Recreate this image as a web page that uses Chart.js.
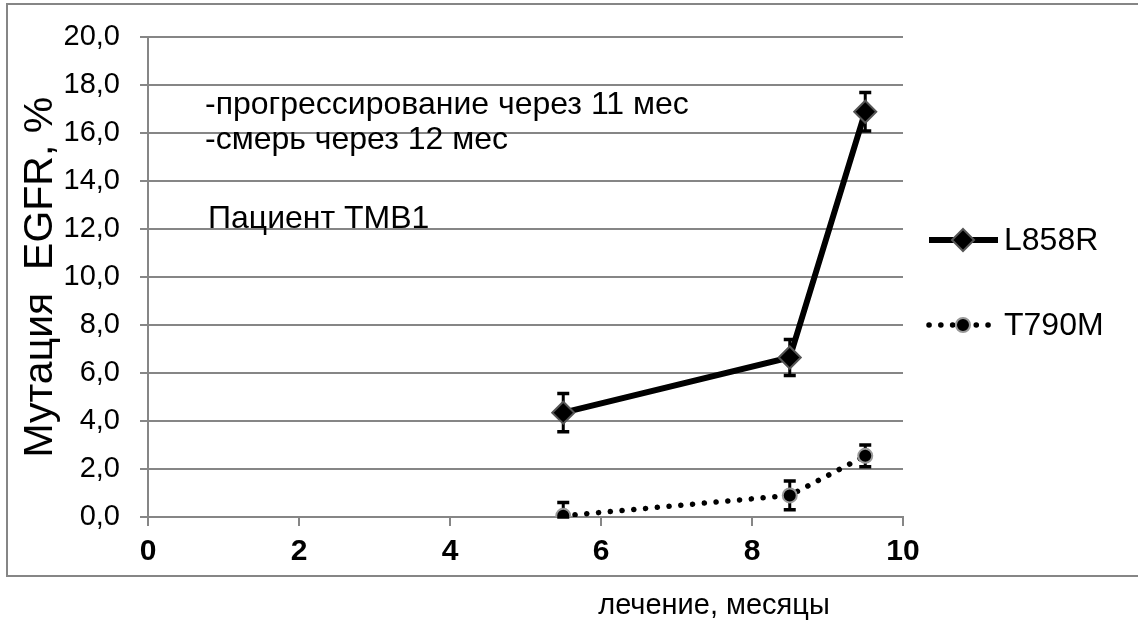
<!DOCTYPE html>
<html>
<head>
<meta charset="utf-8">
<script src="https://cdn.jsdelivr.net/npm/chart.js@4"></script>
<style>
  html, body { margin: 0; padding: 0; background: #fff; }
  #wrap { width: 1138px; height: 627px; }
</style>
</head>
<body>
<div id="wrap"><canvas id="chart" width="1138" height="627"></canvas></div>
<script>
const months = [5.5, 8.5, 9.5];
const l858r = [4.35, 6.65, 16.9];
const l858rErr = [0.8, 0.75, 0.8];
const t790m = [0.05, 0.9, 2.55];
const t790mErr = [0.55, 0.6, 0.45];
const xTicks = [0, 2, 4, 6, 8, 10];
const notes = ["-прогрессирование через 11 мес", "-смерь через 12 мес", "Пациент ТМВ1"];

const FONT = "'Liberation Sans', Arial, sans-serif";
const GRID = "#868686";

const errorBars = {
  id: "errorBars",
  beforeDatasetsDraw(chart) {
    const { ctx, scales } = chart;
    const sets = [l858rErr, t790mErr];
    ctx.save();
    ctx.strokeStyle = "#000";
    ctx.lineWidth = 3;
    chart.data.datasets.forEach((ds, i) => {
      ds.data.forEach((p, j) => {
        const x = scales.x.getPixelForValue(p.x);
        const yTop = scales.y.getPixelForValue(p.y + sets[i][j]);
        const yBot = scales.y.getPixelForValue(Math.max(p.y - sets[i][j], 0));
        ctx.beginPath();
        ctx.moveTo(x, yTop); ctx.lineTo(x, yBot);
        ctx.stroke();
        ctx.lineWidth = 3.5;
        ctx.beginPath();
        ctx.moveTo(x - 6, yTop); ctx.lineTo(x + 6, yTop);
        ctx.moveTo(x - 6, yBot); ctx.lineTo(x + 6, yBot);
        ctx.stroke();
        ctx.lineWidth = 3;
      });
    });
    ctx.restore();
  },
};

const extras = {
  id: "extras",
  afterDraw(chart) {
    const { ctx } = chart;
    ctx.save();
    // outer frame
    ctx.strokeStyle = GRID;
    ctx.lineWidth = 2;
    ctx.strokeRect(7, 4, 1140, 572);

    // notes
    ctx.fillStyle = "#000";
    ctx.font = "32px " + FONT;
    ctx.textBaseline = "middle";
    ctx.textAlign = "left";
    ctx.fillText(notes[0], 205, 105);
    ctx.fillText(notes[1], 205, 140);
    ctx.fillText(notes[2], 208, 219);

    // legend
    chart.data.datasets.forEach((ds, i) => {
      const y = [240, 325][i];
      ctx.save();
      ctx.strokeStyle = ds.borderColor;
      ctx.lineWidth = ds.borderWidth;
      ctx.lineCap = ds.borderCapStyle || "butt";
      ctx.setLineDash(ds.borderDash || []);
      ctx.beginPath();
      ctx.moveTo(929, y); ctx.lineTo(998, y);
      ctx.stroke();
      ctx.restore();
      ctx.save();
      ctx.fillStyle = ds.pointBackgroundColor;
      ctx.strokeStyle = ds.pointBorderColor;
      ctx.lineWidth = ds.pointBorderWidth;
      ctx.beginPath();
      if (ds.pointStyle === "rectRot") {
        const r = ds.pointRadius;
        ctx.moveTo(963, y - r); ctx.lineTo(963 + r, y);
        ctx.lineTo(963, y + r); ctx.lineTo(963 - r, y);
        ctx.closePath();
      } else {
        ctx.arc(963, y, ds.pointRadius, 0, Math.PI * 2);
      }
      ctx.fill(); ctx.stroke();
      ctx.restore();
      ctx.fillStyle = "#000";
      ctx.font = "32px " + FONT;
      ctx.fillText(ds.label, 1004, y + 1);
    });

    // x title below frame
    ctx.font = "29px " + FONT;
    ctx.textAlign = "center";
    ctx.fillText("лечение, месяцы", 714, 606);
    ctx.restore();
  },
};

new Chart(document.getElementById("chart"), {
  type: "line",
  data: {
    datasets: [
      {
        label: "L858R",
        data: months.map((m, i) => ({ x: m, y: l858r[i] })),
        borderColor: "#000",
        borderWidth: 6,
        pointStyle: "rectRot",
        pointRadius: 11,
        pointBackgroundColor: "#000",
        pointBorderColor: "#555",
        pointBorderWidth: 2,
        tension: 0,
      },
      {
        label: "T790M",
        data: months.map((m, i) => ({ x: m, y: t790m[i] })),
        borderColor: "#000",
        borderWidth: 5.5,
        borderDash: [0.1, 11.7],
        borderCapStyle: "round",
        pointStyle: "circle",
        pointRadius: 7,
        pointBackgroundColor: "#000",
        pointBorderColor: "#999",
        pointBorderWidth: 2,
        tension: 0,
      },
    ],
  },
  options: {
    responsive: false,
    animation: false,
    layout: { padding: { left: 0, top: 34, right: 235, bottom: 50 } },
    plugins: { legend: { display: false }, tooltip: { enabled: false } },
    scales: {
      x: {
        type: "linear",
        min: 0,
        max: 10,
        afterBuildTicks: (s) => { s.ticks = xTicks.map((v) => ({ value: v })); },
        afterFit: (s) => { s.height = 60; },
        border: { color: GRID, width: 2 },
        grid: { drawOnChartArea: false, drawTicks: true, tickLength: 9, color: GRID, lineWidth: 2 },
        ticks: { color: "#000", padding: 8, font: { family: FONT, size: 30, weight: "bold" } },
      },
      y: {
        min: 0,
        max: 20,
        afterFit: (s) => { s.width = 148; },
        border: { color: GRID, width: 2 },
        grid: { color: GRID, lineWidth: 2, tickLength: 8 },
        ticks: {
          stepSize: 2,
          color: "#000",
          padding: 20,
          font: { family: FONT, size: 29 },
          callback: (v) => v.toFixed(1).replace(".", ","),
        },
        title: {
          display: true,
          text: "Мутация  EGFR, %",
          color: "#000",
          padding: { top: 16 },
          font: { family: FONT, size: 41 },
        },
      },
    },
  },
  plugins: [errorBars, extras],
});
</script>
</body>
</html>
